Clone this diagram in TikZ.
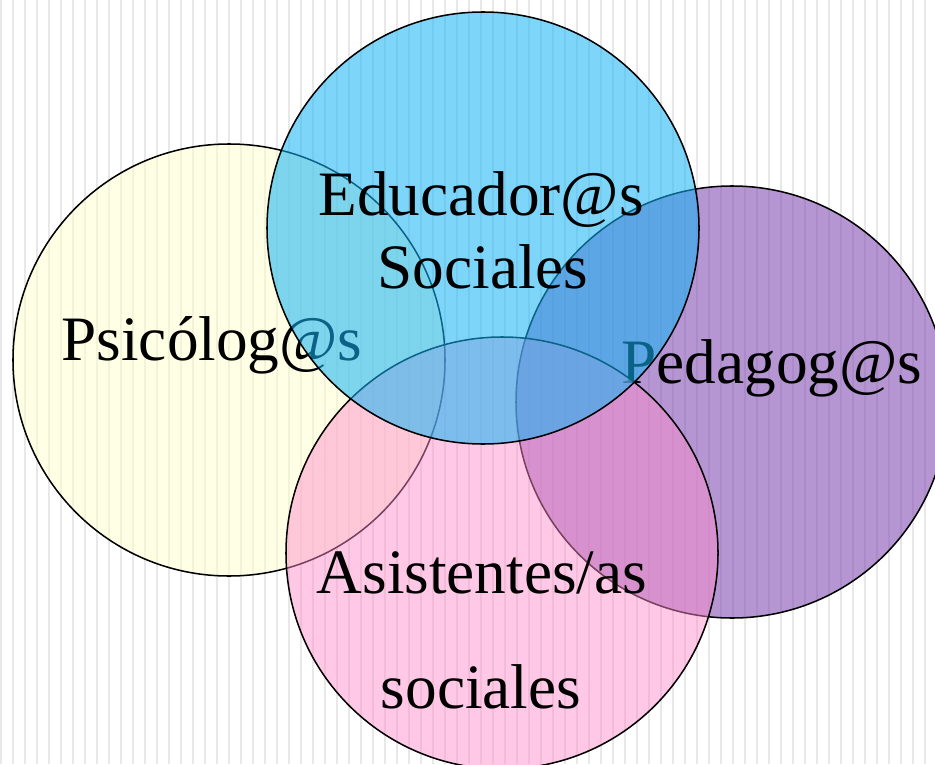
\documentclass[tikz,border=0pt]{standalone}
\usepackage{fontspec}
\setmainfont{Liberation Serif}
\usepackage{tikz}
\usetikzlibrary{positioning}
\definecolor{psicofill}{RGB}{255,255,205}
\definecolor{educafill}{RGB}{20,180,245}
\definecolor{pedafill}{RGB}{132,80,180}
\definecolor{asisfill}{RGB}{255,140,202}
\tikzset
{
    stripe/.style = {draw=black!9, line width=1.4pt},
    setnode/.style = {circle, draw=black, line width=1.3pt, inner sep=0pt, minimum size=12.96cm},
    setlabel/.style = {anchor=base, inner sep=0pt, font=\fontsize{54}{60}\selectfont}
}
\begin{document}
\begin{tikzpicture}[x=0.03cm, y=-0.03cm]
	\useasboundingbox (0,0) rectangle (935,764);
	\clip (0,0) rectangle (935,764);
	\fill[white] (0,0) rectangle (935,764);
	\foreach \i in {0,...,77}
		\draw[stripe] (1+12*\i,0) -- (1+12*\i,764);
	% Psicolog@s
	\node[setnode, fill=psicofill, fill opacity=0.5] (psico) at (229,360) {};
	\node[setlabel] (psicotext) at (212,360) {Psicólog@s};
	% Pedagog@s
	\node[setnode, fill=pedafill, fill opacity=0.6] (peda) at (732,402) {};
	\node[setlabel] (pedatext) at (772,383) {Pedagog@s};
	% Asistentes/as sociales
	\node[setnode, fill=asisfill, fill opacity=0.47] (asis) at (502,553) {};
	\node[setlabel] (asistext) at (482,593) {Asistentes/as};
	\node[setlabel] (asistextb) at (481,708) {sociales};
	% Educador@s Sociales
	\node[setnode, fill=educafill, fill opacity=0.55] (educa) at (483,228) {};
	\node[setlabel] (educatext) at (481,215) {Educador@s};
	\node[setlabel] (educatextb) at (483,288) {Sociales};
\end{tikzpicture}
\end{document}
